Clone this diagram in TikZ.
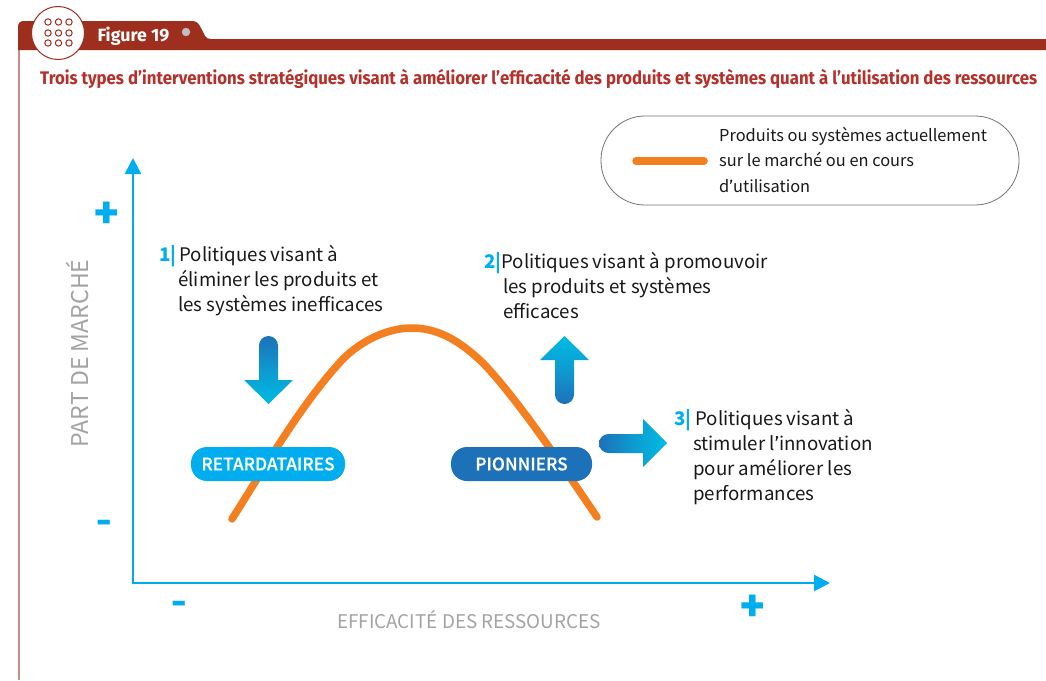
\documentclass[tikz,border=0pt]{standalone}
\usepackage{fontspec}
\setmainfont{Noto Sans CJK SC}
\newfontfamily\figfont{Fira Sans}
\newfontfamily\pillfont[FakeBold=0.5]{Noto Sans CJK SC Medium}
\usetikzlibrary{arrows.meta}
\definecolor{bar}{HTML}{9E2F1F}
\definecolor{titlered}{HTML}{B5302A}
\definecolor{cyanb}{HTML}{00AEEF}
\definecolor{darkb}{HTML}{1D71B8}
\definecolor{orangec}{HTML}{F47F20}
\definecolor{greyt}{HTML}{A3A3A3}
\definecolor{arrowlight}{HTML}{00BCE4}
\tikzset{
 x=1pt,y=-1pt,
 body/.style={font=\fontsize{18.7}{25.1}\selectfont,align=left,anchor=north west,inner sep=0pt,text=black!90},
 legend/.style={font=\fontsize{16.4}{25.5}\selectfont,align=left,anchor=north west,inner sep=0pt,text=black!90},
 pill/.style={rounded corners=16pt,minimum height=34pt,inner sep=0pt,text=white,font=\pillfont\fontsize{17.3}{20}\selectfont},
 axislabel/.style={text=greyt,inner sep=0pt},
 sign/.style={font=\figfont\fontsize{50}{50}\selectfont\bfseries,text=cyanb,inner sep=0pt},
 minus/.style={font=\figfont\fontsize{38}{38}\selectfont\bfseries,text=cyanb,inner sep=0pt},
 axis/.style={draw=cyanb,line width=2.6pt,-{Triangle[length=16pt,width=16pt]}},
 dotc/.style={draw=bar,line width=1pt,fill=white},
}
\newcommand{\nm}[1]{{\color{cyanb}\bfseries #1\textbar}}
\newcommand{\ap}{{\figfont ’}}
\begin{document}
\begin{tikzpicture}
\useasboundingbox (0,0) rectangle (1046,680);
\fill[white] (0,0) rectangle (1046,680);
% frame and header
\fill[bar!55!white] (17.5,48) rectangle (19.5,680);
\fill[bar] (18,50) -- (18,27) .. controls (18,23) and (20,21) .. (24,21) -- (192,21) .. controls (197,21) and (199,24) .. (201,28) -- (205,36) .. controls (206,38) and (208,39) .. (211,39) -- (1046,39) -- (1046,50) -- cycle;
\node[circle,draw=bar,line width=1pt,fill=white,minimum size=53pt,inner sep=0pt] (badge) at (58,33) {};
\foreach \px in {48,58.5,69}{\foreach \py in {22,33,43}{\draw[dotc] (\px,\py) circle (3.2);}}
\node[font=\figfont\fontsize{17.8}{20}\selectfont\bfseries,text=white,inner sep=0pt] (fig) at (133.5,36) {Figure 19};
\fill[black!25] (186,32) circle (4.2);
\node[font=\figfont\fontsize{18.2}{22}\selectfont\bfseries,text=titlered,inner sep=0pt,anchor=west] (title) at (40,79) {\addfontfeature{FakeStretch=0.922}Trois types d’interventions stratégiques visant à améliorer l’efficacité des produits et systèmes quant à l’utilisation des ressources};
% legend
\draw[black!55,line width=.8pt,rounded corners=44pt] (601,116) rectangle (1019,205);
\draw[orangec,line width=7.5pt,line cap=round] (636,161) -- (704,161);
\node[legend] (leg) at (719,126.5) {Produits ou systèmes actuellement\\sur le marché ou en cours\\d\ap utilisation};
% axes
\coordinate (o) at (133,583);
\coordinate (ytop) at (133,158);
\coordinate (xend) at (830,583);
\draw[axis] (133,584.3) -- (ytop);
\draw[axis] (o) -- (xend);
\node[sign] (yp) at (107,216) {+};
\node[minus] (ym) at (104.5,527) {-};
\node[minus] (xm) at (179.5,608) {-};
\node[sign] (xp) at (753,609) {+};
\node[axislabel,rotate=90,font=\fontsize{23.1}{26}\selectfont] (yl) at (77,353.5) {PART DE MARCHÉ};
\node[axislabel,font=\fontsize{18.85}{24}\selectfont] (xl) at (469,619) {EFFICACITÉ DES RESSOURCES};
% curve
\draw[orangec,line width=7.5pt,line cap=round] (232,519) .. controls (262,472) and (300,405) .. (343,359) .. controls (362,340) and (388,328) .. (412,328) .. controls (440,328) and (462,343) .. (483,363) .. controls (520,402) and (565,470) .. (597,517);
% pills
\node[pill,fill=cyanb,minimum width=154pt] (ret) at (268,464) {RETARDATAIRES};
\node[pill,fill=darkb,minimum width=141pt] (pio) at (521.5,464) {PIONNIERS};
% block arrows
\shade[top color=darkb,bottom color=arrowlight,middle color=darkb!45!arrowlight]
 (259,345.5) arc[start angle=180,end angle=360,radius=9.5] -- (278,380) -- (293,380) -- (268.5,404) -- (244,380) -- (259,380) -- cycle;
\shade[bottom color=darkb,top color=arrowlight,middle color=darkb!45!arrowlight]
 (555,394.5) arc[start angle=180,end angle=0,radius=9.5] -- (574,360) -- (589,360) -- (564.5,336) -- (540,360) -- (555,360) -- cycle;
\shade[left color=darkb,right color=arrowlight,middle color=darkb!45!arrowlight]
 (608.5,434) arc[start angle=270,end angle=90,radius=9.5] -- (643,453) -- (643,467) -- (667,443) -- (643,419) -- (643,434) -- cycle;
% texts
\node[body] (t1) at (159,245) {\nm{1}\hspace{3pt}Politiques visant à\\\hspace{19pt}éliminer les produits et\\\hspace{19pt}les systèmes inefficaces};
\node[body] (t2) at (484,252) {\nm{2}Politiques visant à promouvoir\\\hspace{19pt}les produits et systèmes\\\hspace{19pt}efficaces};
\node[body] (t3) at (674,409) {\nm{3}\hspace{4pt}Politiques visant à\\\hspace{19pt}stimuler l\ap innovation\\\hspace{19pt}pour améliorer les\\\hspace{19pt}performances};
\end{tikzpicture}
\end{document}
